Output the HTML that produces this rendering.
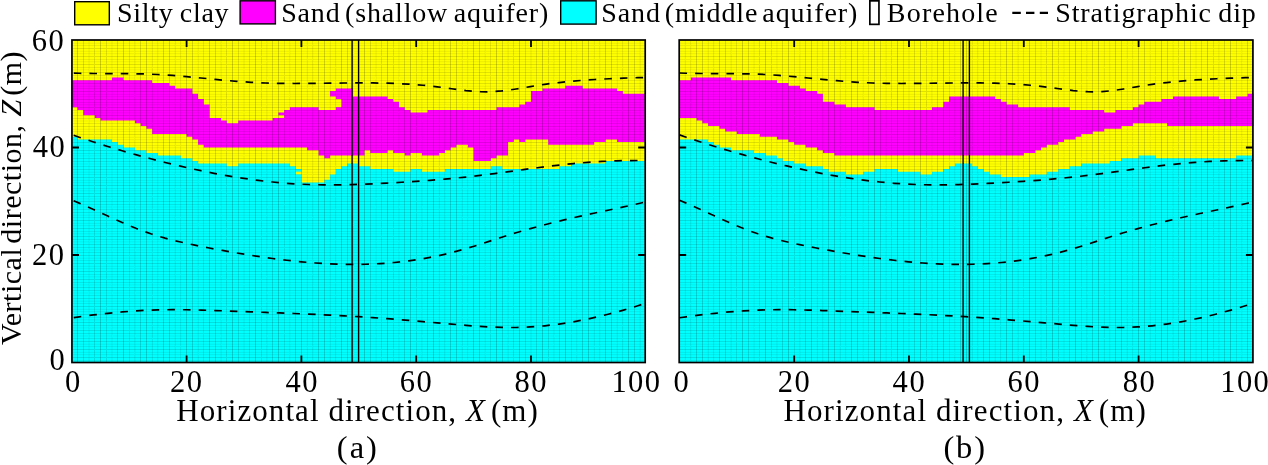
<!DOCTYPE html>
<html><head><meta charset="utf-8"><title>Stratigraphy</title>
<style>
html,body{margin:0;padding:0;background:#fff;}
body{width:1268px;height:465px;overflow:hidden;}
svg{display:block;will-change:transform;}
text{font-family:"Liberation Serif","Times New Roman",serif;fill:#000;}
</style></head><body>
<svg width="1268" height="465" viewBox="0 0 1268 465">
<rect x="71.8" y="40" width="574" height="322.5" fill="#00ffff"/>
<path fill="#ffff00" d="M71.8 40H645.8V160.94H640.06H634.32H628.58H622.84H617.1H611.36H605.62V163.62H599.88H594.14H588.4H582.66H576.92H571.18V166.31H565.44H559.7V169H553.96H548.22H542.48H536.74H531H525.26H519.52H513.78H508.04H502.3V166.31H496.56H490.82V169H485.08H479.34H473.6H467.86H462.12H456.38H450.64H444.9V171.69H439.16H433.42H427.68H421.94V169H416.2H410.46V171.69H404.72H398.98H393.24V169H387.5H381.76H376.02H370.28V166.31H364.54H358.8V163.62H353.06H347.32V166.31H341.58V169H335.84V174.38H330.1V179.75H324.36V182.44H318.62H312.88H307.14H301.4V169H295.66V166.31H289.92V163.62H284.18H278.44H272.7H266.96H261.22H255.48H249.74H244H238.26V166.31H232.52H226.78V163.62H221.04H215.3H209.56H203.82H198.08V160.94H192.34V158.25H186.6H180.86V155.56H175.12H169.38H163.64H157.9V152.88H152.16H146.42V150.19H140.68H134.94V147.5H129.2H123.46V144.81H117.72V142.12H111.98V139.44H106.24H100.5H94.76H89.02H83.28H77.54V136.75H71.8Z"/>
<path fill="#ff00ff" d="M71.8 80.31H77.54H83.28H89.02H94.76H100.5H106.24H111.98V77.62H117.72H123.46V80.31H129.2H134.94H140.68H146.42H152.16V83H157.9H163.64H169.38V85.69H175.12V88.38H180.86H186.6H192.34V93.75H198.08V99.12H203.82V104.5H209.56V117.94H215.3H221.04V120.62H226.78V123.31H232.52H238.26V120.62H244H249.74H255.48H261.22H266.96H272.7V117.94H278.44V112.56H284.18V109.88H289.92V107.19H295.66H301.4H307.14H312.88H318.62V109.88H324.36H330.1H335.84V88.38H341.58H347.32H353.06V96.44H358.8H364.54H370.28H376.02H381.76H387.5V99.12H393.24V101.81H398.98V107.19H404.72V109.88H410.46V112.56H416.2H421.94H427.68V109.88H433.42H439.16H444.9H450.64H456.38H462.12H467.86H473.6H479.34H485.08H490.82H496.56V107.19H502.3H508.04H513.78H519.52V104.5H525.26V101.81H531V91.06H536.74H542.48V88.38H548.22H553.96H559.7H565.44V85.69H571.18H576.92H582.66V88.38H588.4H594.14H599.88H605.62H611.36H617.1V91.06H622.84V93.75H628.58H634.32H640.06H645.8V142.12H640.06H634.32H628.58H622.84H617.1V139.44H611.36H605.62V142.12H599.88H594.14V144.81H588.4H582.66H576.92H571.18H565.44H559.7H553.96H548.22V139.44H542.48H536.74H531H525.26V142.12H519.52V139.44H513.78V142.12H508.04V155.56H502.3H496.56V158.25H490.82V160.94H485.08H479.34H473.6V147.5H467.86V144.81H462.12H456.38V147.5H450.64V150.19H444.9V152.88H439.16V155.56H433.42H427.68H421.94V152.88H416.2H410.46V155.56H404.72V152.88H398.98H393.24V150.19H387.5V152.88H381.76H376.02H370.28V150.19H364.54V155.56H358.8H353.06H347.32H341.58H335.84H330.1V158.25H324.36V155.56H318.62V150.19H312.88H307.14V147.5H301.4H295.66H289.92H284.18H278.44H272.7H266.96H261.22H255.48H249.74H244H238.26H232.52H226.78H221.04H215.3H209.56H203.82V144.81H198.08V139.44H192.34V136.75H186.6V134.06H180.86H175.12H169.38H163.64H157.9H152.16V128.69H146.42V126H140.68V123.31H134.94V120.62H129.2H123.46H117.72H111.98H106.24H100.5V117.94H94.76V115.25H89.02H83.28V109.88H77.54V107.19H71.8Z"/>
<rect x="277.84" y="115.25" width="6.34" height="2.69" fill="#ffff00"/>
<rect x="330.1" y="91.06" width="6.34" height="5.38" fill="#ff00ff"/>
<rect x="335.24" y="99.12" width="6.34" height="8.06" fill="#ffff00"/>
<rect x="295.66" y="171.69" width="6.34" height="2.69" fill="#ffff00"/>
<path d="M151 40h1v322h-1zM181 40h1v322h-1zM306 40h1v322h-1zM336 40h1v322h-1zM438 40h1v322h-1zM468 40h1v322h-1zM593 40h1v322h-1zM623 40h1v322h-1zM72 50h573v1h-573zM72 54h573v1h-573zM72 93h573v1h-573zM72 97h573v1h-573zM72 136h573v1h-573zM72 140h573v1h-573zM72 179h573v1h-573zM72 183h573v1h-573zM72 222h573v1h-573zM72 226h573v1h-573zM72 265h573v1h-573zM72 269h573v1h-573zM72 308h573v1h-573zM72 312h573v1h-573zM72 351h573v1h-573zM72 355h573v1h-573z" fill="#000" fill-opacity="0.01" shape-rendering="crispEdges"/>
<path d="M158 40h1v322h-1zM174 40h1v322h-1zM197 40h1v322h-1zM290 40h1v322h-1zM313 40h1v322h-1zM329 40h1v322h-1zM445 40h1v322h-1zM461 40h1v322h-1zM484 40h1v322h-1zM577 40h1v322h-1zM600 40h1v322h-1zM616 40h1v322h-1zM72 42h573v1h-573zM72 62h573v1h-573zM72 70h573v1h-573zM72 85h573v1h-573zM72 105h573v1h-573zM72 113h573v1h-573zM72 128h573v1h-573zM72 148h573v1h-573zM72 156h573v1h-573zM72 171h573v1h-573zM72 191h573v1h-573zM72 199h573v1h-573zM72 214h573v1h-573zM72 234h573v1h-573zM72 242h573v1h-573zM72 257h573v1h-573zM72 277h573v1h-573zM72 285h573v1h-573zM72 300h573v1h-573zM72 320h573v1h-573zM72 328h573v1h-573zM72 343h573v1h-573z" fill="#000" fill-opacity="0.02" shape-rendering="crispEdges"/>
<path d="M88 40h1v322h-1zM112 40h1v322h-1zM135 40h1v322h-1zM220 40h1v322h-1zM267 40h1v322h-1zM352 40h1v322h-1zM375 40h1v322h-1zM399 40h1v322h-1zM422 40h1v322h-1zM507 40h1v322h-1zM554 40h1v322h-1zM639 40h1v322h-1zM72 77h573v1h-573zM72 78h573v1h-573zM72 120h573v1h-573zM72 121h573v1h-573zM72 163h573v1h-573zM72 164h573v1h-573zM72 206h573v1h-573zM72 207h573v1h-573zM72 249h573v1h-573zM72 250h573v1h-573zM72 292h573v1h-573zM72 293h573v1h-573zM72 335h573v1h-573zM72 336h573v1h-573z" fill="#000" fill-opacity="0.03" shape-rendering="crispEdges"/>
<path d="M89 40h1v322h-1zM111 40h1v322h-1zM243 40h1v322h-1zM244 40h1v322h-1zM376 40h1v322h-1zM398 40h1v322h-1zM530 40h1v322h-1zM531 40h1v322h-1zM72 69h573v1h-573zM72 112h573v1h-573zM72 155h573v1h-573zM72 198h573v1h-573zM72 241h573v1h-573zM72 284h573v1h-573zM72 327h573v1h-573z" fill="#000" fill-opacity="0.04" shape-rendering="crispEdges"/>
<path d="M221 40h1v322h-1zM266 40h1v322h-1zM508 40h1v322h-1zM553 40h1v322h-1zM72 43h573v1h-573zM72 61h573v1h-573zM72 86h573v1h-573zM72 104h573v1h-573zM72 129h573v1h-573zM72 147h573v1h-573zM72 172h573v1h-573zM72 190h573v1h-573zM72 215h573v1h-573zM72 233h573v1h-573zM72 258h573v1h-573zM72 276h573v1h-573zM72 301h573v1h-573zM72 319h573v1h-573zM72 344h573v1h-573z" fill="#000" fill-opacity="0.05" shape-rendering="crispEdges"/>
<path d="M134 40h1v322h-1zM198 40h1v322h-1zM289 40h1v322h-1zM353 40h1v322h-1zM421 40h1v322h-1zM485 40h1v322h-1zM576 40h1v322h-1zM640 40h1v322h-1zM72 51h573v1h-573zM72 53h573v1h-573zM72 94h573v1h-573zM72 96h573v1h-573zM72 137h573v1h-573zM72 139h573v1h-573zM72 180h573v1h-573zM72 182h573v1h-573zM72 223h573v1h-573zM72 225h573v1h-573zM72 266h573v1h-573zM72 268h573v1h-573zM72 309h573v1h-573zM72 311h573v1h-573zM72 352h573v1h-573zM72 354h573v1h-573z" fill="#000" fill-opacity="0.06" shape-rendering="crispEdges"/>
<path d="M157 40h1v322h-1zM330 40h1v322h-1zM444 40h1v322h-1zM617 40h1v322h-1z" fill="#000" fill-opacity="0.07" shape-rendering="crispEdges"/>
<path d="M175 40h1v322h-1zM180 40h1v322h-1zM307 40h1v322h-1zM312 40h1v322h-1zM462 40h1v322h-1zM467 40h1v322h-1zM594 40h1v322h-1zM599 40h1v322h-1zM72 45h573v1h-573zM72 59h573v1h-573zM72 88h573v1h-573zM72 102h573v1h-573zM72 131h573v1h-573zM72 145h573v1h-573zM72 174h573v1h-573zM72 188h573v1h-573zM72 217h573v1h-573zM72 231h573v1h-573zM72 260h573v1h-573zM72 274h573v1h-573zM72 303h573v1h-573zM72 317h573v1h-573zM72 346h573v1h-573zM72 360h573v1h-573z" fill="#000" fill-opacity="0.08" shape-rendering="crispEdges"/>
<path d="M152 40h1v322h-1zM335 40h1v322h-1zM439 40h1v322h-1zM622 40h1v322h-1zM72 67h573v1h-573zM72 80h573v1h-573zM72 110h573v1h-573zM72 123h573v1h-573zM72 153h573v1h-573zM72 166h573v1h-573zM72 196h573v1h-573zM72 209h573v1h-573zM72 239h573v1h-573zM72 252h573v1h-573zM72 282h573v1h-573zM72 295h573v1h-573zM72 325h573v1h-573zM72 338h573v1h-573z" fill="#000" fill-opacity="0.09" shape-rendering="crispEdges"/>
<path d="M203 40h1v322h-1zM284 40h1v322h-1zM490 40h1v322h-1zM571 40h1v322h-1zM72 75h573v1h-573zM72 118h573v1h-573zM72 161h573v1h-573zM72 204h573v1h-573zM72 247h573v1h-573zM72 290h573v1h-573zM72 333h573v1h-573z" fill="#000" fill-opacity="0.1" shape-rendering="crispEdges"/>
<path d="M129 40h1v322h-1zM358 40h1v322h-1zM416 40h1v322h-1zM72 72h573v1h-573zM72 83h573v1h-573zM72 115h573v1h-573zM72 126h573v1h-573zM72 158h573v1h-573zM72 169h573v1h-573zM72 201h573v1h-573zM72 212h573v1h-573zM72 244h573v1h-573zM72 255h573v1h-573zM72 287h573v1h-573zM72 298h573v1h-573zM72 330h573v1h-573zM72 341h573v1h-573z" fill="#000" fill-opacity="0.11" shape-rendering="crispEdges"/>
<path d="M94 40h1v322h-1zM106 40h1v322h-1zM226 40h1v322h-1zM261 40h1v322h-1zM381 40h1v322h-1zM393 40h1v322h-1zM513 40h1v322h-1zM548 40h1v322h-1zM72 48h573v1h-573zM72 56h573v1h-573zM72 64h573v1h-573zM72 91h573v1h-573zM72 99h573v1h-573zM72 107h573v1h-573zM72 134h573v1h-573zM72 142h573v1h-573zM72 150h573v1h-573zM72 177h573v1h-573zM72 185h573v1h-573zM72 193h573v1h-573zM72 220h573v1h-573zM72 228h573v1h-573zM72 236h573v1h-573zM72 263h573v1h-573zM72 271h573v1h-573zM72 279h573v1h-573zM72 306h573v1h-573zM72 314h573v1h-573zM72 322h573v1h-573zM72 349h573v1h-573zM72 357h573v1h-573z" fill="#000" fill-opacity="0.12" shape-rendering="crispEdges"/>
<path d="M238 40h1v322h-1zM249 40h1v322h-1zM525 40h1v322h-1zM536 40h1v322h-1z" fill="#000" fill-opacity="0.13" shape-rendering="crispEdges"/>
<path d="M83 40h1v322h-1zM117 40h1v322h-1zM370 40h1v322h-1zM404 40h1v322h-1z" fill="#000" fill-opacity="0.14" shape-rendering="crispEdges"/>
<path d="M140 40h1v322h-1zM215 40h1v322h-1zM272 40h1v322h-1zM347 40h1v322h-1zM427 40h1v322h-1zM502 40h1v322h-1zM559 40h1v322h-1zM634 40h1v322h-1z" fill="#000" fill-opacity="0.15" shape-rendering="crispEdges"/>
<path d="M192 40h1v322h-1zM295 40h1v322h-1zM479 40h1v322h-1zM582 40h1v322h-1z" fill="#000" fill-opacity="0.16" shape-rendering="crispEdges"/>
<path d="M163 40h1v322h-1zM169 40h1v322h-1zM318 40h1v322h-1zM324 40h1v322h-1zM450 40h1v322h-1zM456 40h1v322h-1zM605 40h1v322h-1zM611 40h1v322h-1z" fill="#000" fill-opacity="0.17" shape-rendering="crispEdges"/>
<path d="M146 40h1v322h-1zM186 40h1v322h-1zM301 40h1v322h-1zM341 40h1v322h-1zM433 40h1v322h-1zM473 40h1v322h-1zM588 40h1v322h-1zM628 40h1v322h-1z" fill="#000" fill-opacity="0.18" shape-rendering="crispEdges"/>
<path d="M77 40h1v322h-1zM100 40h1v322h-1zM123 40h1v322h-1zM209 40h1v322h-1zM232 40h1v322h-1zM255 40h1v322h-1zM278 40h1v322h-1zM364 40h1v322h-1zM387 40h1v322h-1zM410 40h1v322h-1zM496 40h1v322h-1zM519 40h1v322h-1zM542 40h1v322h-1zM565 40h1v322h-1z" fill="#000" fill-opacity="0.19" shape-rendering="crispEdges"/>
<polyline points="72,73 79.16,73.23 86.33,73.39 93.49,73.49 100.65,73.55 107.81,73.58 114.97,73.61 122.14,73.65 129.3,73.71 136.46,73.81 143.62,73.97 150.79,74.2 157.95,74.52 165.11,74.94 172.28,75.44 179.44,76.01 186.6,76.64 193.76,77.3 200.93,77.99 208.09,78.69 215.25,79.39 222.41,80.07 229.58,80.72 236.74,81.32 243.9,81.86 251.06,82.33 258.23,82.71 265.39,83 272.55,83.21 279.71,83.36 286.88,83.44 294.04,83.48 301.2,83.47 308.36,83.43 315.52,83.36 322.69,83.27 329.85,83.18 337.01,83.09 344.18,83.01 351.34,82.95 358.5,82.91 365.66,82.91 372.83,82.96 379.99,83.05 387.15,83.21 394.31,83.44 401.48,83.75 408.64,84.15 415.8,84.64 422.96,85.24 430.12,85.95 437.29,86.79 444.45,87.74 451.61,88.75 458.78,89.73 465.94,90.6 473.1,91.29 480.26,91.71 487.43,91.8 494.59,91.53 501.75,90.95 508.91,90.1 516.08,89.03 523.24,87.81 530.4,86.55 537.56,85.39 544.73,84.34 551.89,83.39 559.05,82.54 566.21,81.78 573.38,81.1 580.54,80.5 587.7,79.97 594.86,79.51 602.03,79.1 609.19,78.75 616.35,78.43 623.51,78.16 630.68,77.91 637.84,77.69 645,77.49" fill="none" stroke="#000" stroke-width="1.7" stroke-dasharray="7.6 8.05" stroke-dashoffset="-1.8"/>
<polyline points="72,134.7 79.16,137.18 86.33,139.59 93.49,141.95 100.65,144.25 107.81,146.49 114.97,148.68 122.14,150.8 129.3,152.88 136.46,154.9 143.62,156.87 150.79,158.78 157.95,160.65 165.11,162.46 172.28,164.22 179.44,165.93 186.6,167.58 193.76,169.17 200.93,170.69 208.09,172.15 215.25,173.55 222.41,174.87 229.58,176.12 236.74,177.3 243.9,178.41 251.06,179.43 258.23,180.37 265.39,181.23 272.55,182 279.71,182.69 286.88,183.29 294.04,183.79 301.2,184.19 308.36,184.5 315.52,184.72 322.69,184.84 329.85,184.88 337.01,184.85 344.18,184.75 351.34,184.58 358.5,184.36 365.66,184.1 372.83,183.79 379.99,183.45 387.15,183.08 394.31,182.69 401.48,182.27 408.64,181.83 415.8,181.35 422.96,180.85 430.12,180.31 437.29,179.74 444.45,179.12 451.61,178.47 458.78,177.77 465.94,177.03 473.1,176.24 480.26,175.4 487.43,174.52 494.59,173.59 501.75,172.63 508.91,171.65 516.08,170.66 523.24,169.67 530.4,168.69 537.56,167.73 544.73,166.79 551.89,165.9 559.05,165.06 566.21,164.28 573.38,163.56 580.54,162.92 587.7,162.36 594.86,161.87 602.03,161.45 609.19,161.11 616.35,160.84 623.51,160.65 630.68,160.53 637.84,160.49 645,160.52" fill="none" stroke="#000" stroke-width="1.7" stroke-dasharray="7.6 8.05" stroke-dashoffset="-1.8"/>
<polyline points="72,200.1 79.16,203.1 86.33,206.23 93.49,209.46 100.65,212.74 107.81,216.03 114.97,219.3 122.14,222.49 129.3,225.58 136.46,228.53 143.62,231.28 150.79,233.81 157.95,236.09 165.11,238.16 172.28,240.05 179.44,241.78 186.6,243.4 193.76,244.92 200.93,246.38 208.09,247.78 215.25,249.14 222.41,250.46 229.58,251.74 236.74,252.99 243.9,254.19 251.06,255.34 258.23,256.45 265.39,257.5 272.55,258.49 279.71,259.42 286.88,260.28 294.04,261.08 301.2,261.79 308.36,262.43 315.52,262.99 322.69,263.46 329.85,263.84 337.01,264.12 344.18,264.31 351.34,264.39 358.5,264.36 365.66,264.23 372.83,263.98 379.99,263.61 387.15,263.11 394.31,262.49 401.48,261.74 408.64,260.86 415.8,259.84 422.96,258.69 430.12,257.38 437.29,255.93 444.45,254.33 451.61,252.58 458.78,250.69 465.94,248.66 473.1,246.51 480.26,244.25 487.43,241.93 494.59,239.57 501.75,237.24 508.91,234.97 516.08,232.78 523.24,230.67 530.4,228.63 537.56,226.66 544.73,224.76 551.89,222.92 559.05,221.15 566.21,219.42 573.38,217.76 580.54,216.14 587.7,214.57 594.86,213.03 602.03,211.51 609.19,209.99 616.35,208.47 623.51,206.93 630.68,205.35 637.84,203.72 645,202.02" fill="none" stroke="#000" stroke-width="1.7" stroke-dasharray="7.6 8.05" stroke-dashoffset="-1.8"/>
<polyline points="72,317.8 79.16,316.8 86.33,315.84 93.49,314.94 100.65,314.09 107.81,313.31 114.97,312.59 122.14,311.94 129.3,311.37 136.46,310.87 143.62,310.46 150.79,310.13 157.95,309.9 165.11,309.75 172.28,309.69 179.44,309.7 186.6,309.77 193.76,309.9 200.93,310.08 208.09,310.29 215.25,310.53 222.41,310.79 229.58,311.06 236.74,311.34 243.9,311.6 251.06,311.87 258.23,312.14 265.39,312.4 272.55,312.67 279.71,312.95 286.88,313.23 294.04,313.51 301.2,313.81 308.36,314.12 315.52,314.44 322.69,314.77 329.85,315.12 337.01,315.49 344.18,315.87 351.34,316.28 358.5,316.71 365.66,317.16 372.83,317.64 379.99,318.15 387.15,318.68 394.31,319.23 401.48,319.8 408.64,320.39 415.8,320.99 422.96,321.61 430.12,322.23 437.29,322.85 444.45,323.48 451.61,324.11 458.78,324.73 465.94,325.33 473.1,325.89 480.26,326.4 487.43,326.83 494.59,327.18 501.75,327.41 508.91,327.52 516.08,327.49 523.24,327.29 530.4,326.94 537.56,326.44 544.73,325.79 551.89,324.99 559.05,324.06 566.21,322.99 573.38,321.79 580.54,320.46 587.7,319.01 594.86,317.44 602.03,315.76 609.19,313.97 616.35,312.07 623.51,310.07 630.68,307.97 637.84,305.78 645,303.5" fill="none" stroke="#000" stroke-width="1.7" stroke-dasharray="7.6 8.05" stroke-dashoffset="-1.8"/>
<line x1="352.1" y1="40" x2="352.1" y2="362.5" stroke="#000" stroke-width="1.4"/>
<line x1="358.6" y1="40" x2="358.6" y2="362.5" stroke="#000" stroke-width="1.4"/>
<path d="M186.6 40v7M186.6 362.5v-7M301.4 40v7M301.4 362.5v-7M416.2 40v7M416.2 362.5v-7M531 40v7M531 362.5v-7M71.95 255h7M645.2 255h-7M71.95 147.5h7M645.2 147.5h-7" stroke="#000" stroke-width="1.8" fill="none"/>
<rect x="71.95" y="40" width="573.25" height="322.5" fill="none" stroke="#000" stroke-width="1.7"/>
<rect x="679.4" y="40" width="574" height="322.5" fill="#00ffff"/>
<path fill="#ffff00" d="M679.4 40H1253.4V155.56H1247.66H1241.92H1236.18V158.25H1230.44H1224.7H1218.96H1213.22H1207.48H1201.74H1196H1190.26H1184.52H1178.78H1173.04H1167.3H1161.56H1155.82V155.56H1150.08H1144.34H1138.6V158.25H1132.86H1127.12H1121.38V160.94H1115.64H1109.9V163.62H1104.16H1098.42H1092.68H1086.94H1081.2V166.31H1075.46H1069.72V169H1063.98H1058.24V171.69H1052.5H1046.76V174.38H1041.02H1035.28H1029.54V177.06H1023.8H1018.06H1012.32H1006.58H1000.84V174.38H995.1H989.36V171.69H983.62V169H977.88V166.31H972.14V163.62H966.4H960.66H954.92V166.31H949.18V169H943.44V171.69H937.7H931.96V174.38H926.22H920.48V171.69H914.74H909H903.26H897.52V169H891.78H886.04H880.3H874.56V171.69H868.82H863.08V174.38H857.34H851.6H845.86V171.69H840.12H834.38H828.64V169H822.9V166.31H817.16H811.42H805.68V163.62H799.94H794.2V160.94H788.46H782.72V158.25H776.98V155.56H771.24H765.5V152.88H759.76H754.02V150.19H748.28H742.54H736.8H731.06V147.5H725.32H719.58V144.81H713.84V142.12H708.1V139.44H702.36H696.62H690.88H685.14H679.4Z"/>
<path fill="#ff00ff" d="M679.4 80.31H685.14H690.88V77.62H696.62H702.36H708.1H713.84H719.58H725.32H731.06V80.31H736.8H742.54H748.28H754.02H759.76H765.5H771.24H776.98V83H782.72H788.46V85.69H794.2H799.94V88.38H805.68V91.06H811.42H817.16V93.75H822.9V101.81H828.64H834.38V104.5H840.12H845.86V107.19H851.6H857.34H863.08H868.82H874.56V109.88H880.3H886.04H891.78H897.52H903.26H909H914.74H920.48H926.22H931.96V107.19H937.7H943.44V101.81H949.18V96.44H954.92H960.66H966.4H972.14H977.88H983.62H989.36H995.1V99.12H1000.84V101.81H1006.58V104.5H1012.32H1018.06V107.19H1023.8H1029.54H1035.28H1041.02H1046.76H1052.5H1058.24H1063.98H1069.72V109.88H1075.46H1081.2H1086.94H1092.68H1098.42H1104.16V112.56H1109.9H1115.64V109.88H1121.38H1127.12H1132.86V107.19H1138.6V104.5H1144.34V101.81H1150.08H1155.82H1161.56V99.12H1167.3H1173.04V96.44H1178.78H1184.52H1190.26H1196H1201.74H1207.48H1213.22H1218.96V99.12H1224.7H1230.44H1236.18V96.44H1241.92H1247.66V93.75H1253.4V126H1247.66H1241.92H1236.18H1230.44H1224.7H1218.96H1213.22H1207.48H1201.74H1196H1190.26H1184.52H1178.78H1173.04H1167.3V123.31H1161.56H1155.82H1150.08H1144.34H1138.6H1132.86V126H1127.12H1121.38V128.69H1115.64H1109.9H1104.16V131.38H1098.42H1092.68V134.06H1086.94H1081.2V136.75H1075.46V139.44H1069.72H1063.98V142.12H1058.24V144.81H1052.5H1046.76V147.5H1041.02V150.19H1035.28V152.88H1029.54H1023.8V155.56H1018.06H1012.32H1006.58H1000.84H995.1H989.36H983.62H977.88H972.14H966.4H960.66H954.92H949.18H943.44H937.7H931.96H926.22H920.48H914.74H909H903.26H897.52H891.78H886.04H880.3H874.56H868.82H863.08H857.34H851.6H845.86H840.12H834.38V152.88H828.64H822.9V150.19H817.16V147.5H811.42H805.68V144.81H799.94H794.2V142.12H788.46V139.44H782.72H776.98V136.75H771.24H765.5H759.76V134.06H754.02H748.28H742.54H736.8V131.38H731.06H725.32V128.69H719.58V126H713.84H708.1V123.31H702.36V120.62H696.62V117.94H690.88H685.14H679.4Z"/>
<path d="M684 40h1v322h-1zM714 40h1v322h-1zM816 40h1v322h-1zM846 40h1v322h-1zM971 40h1v322h-1zM1001 40h1v322h-1zM1103 40h1v322h-1zM1133 40h1v322h-1zM679 50h574v1h-574zM679 54h574v1h-574zM679 93h574v1h-574zM679 97h574v1h-574zM679 136h574v1h-574zM679 140h574v1h-574zM679 179h574v1h-574zM679 183h574v1h-574zM679 222h574v1h-574zM679 226h574v1h-574zM679 265h574v1h-574zM679 269h574v1h-574zM679 308h574v1h-574zM679 312h574v1h-574zM679 351h574v1h-574zM679 355h574v1h-574z" fill="#000" fill-opacity="0.01" shape-rendering="crispEdges"/>
<path d="M691 40h1v322h-1zM707 40h1v322h-1zM823 40h1v322h-1zM839 40h1v322h-1zM862 40h1v322h-1zM955 40h1v322h-1zM978 40h1v322h-1zM994 40h1v322h-1zM1110 40h1v322h-1zM1126 40h1v322h-1zM1149 40h1v322h-1zM1242 40h1v322h-1zM679 42h574v1h-574zM679 62h574v1h-574zM679 70h574v1h-574zM679 85h574v1h-574zM679 105h574v1h-574zM679 113h574v1h-574zM679 128h574v1h-574zM679 148h574v1h-574zM679 156h574v1h-574zM679 171h574v1h-574zM679 191h574v1h-574zM679 199h574v1h-574zM679 214h574v1h-574zM679 234h574v1h-574zM679 242h574v1h-574zM679 257h574v1h-574zM679 277h574v1h-574zM679 285h574v1h-574zM679 300h574v1h-574zM679 320h574v1h-574zM679 328h574v1h-574zM679 343h574v1h-574z" fill="#000" fill-opacity="0.02" shape-rendering="crispEdges"/>
<path d="M730 40h1v322h-1zM753 40h1v322h-1zM777 40h1v322h-1zM800 40h1v322h-1zM885 40h1v322h-1zM932 40h1v322h-1zM1017 40h1v322h-1zM1040 40h1v322h-1zM1064 40h1v322h-1zM1087 40h1v322h-1zM1172 40h1v322h-1zM1219 40h1v322h-1zM679 77h574v1h-574zM679 78h574v1h-574zM679 120h574v1h-574zM679 121h574v1h-574zM679 163h574v1h-574zM679 164h574v1h-574zM679 206h574v1h-574zM679 207h574v1h-574zM679 249h574v1h-574zM679 250h574v1h-574zM679 292h574v1h-574zM679 293h574v1h-574zM679 335h574v1h-574zM679 336h574v1h-574z" fill="#000" fill-opacity="0.03" shape-rendering="crispEdges"/>
<path d="M754 40h1v322h-1zM776 40h1v322h-1zM908 40h1v322h-1zM909 40h1v322h-1zM1041 40h1v322h-1zM1063 40h1v322h-1zM1195 40h1v322h-1zM1196 40h1v322h-1zM679 69h574v1h-574zM679 112h574v1h-574zM679 155h574v1h-574zM679 198h574v1h-574zM679 241h574v1h-574zM679 284h574v1h-574zM679 327h574v1h-574z" fill="#000" fill-opacity="0.04" shape-rendering="crispEdges"/>
<path d="M886 40h1v322h-1zM931 40h1v322h-1zM1173 40h1v322h-1zM1218 40h1v322h-1zM679 43h574v1h-574zM679 61h574v1h-574zM679 86h574v1h-574zM679 104h574v1h-574zM679 129h574v1h-574zM679 147h574v1h-574zM679 172h574v1h-574zM679 190h574v1h-574zM679 215h574v1h-574zM679 233h574v1h-574zM679 258h574v1h-574zM679 276h574v1h-574zM679 301h574v1h-574zM679 319h574v1h-574zM679 344h574v1h-574z" fill="#000" fill-opacity="0.05" shape-rendering="crispEdges"/>
<path d="M731 40h1v322h-1zM799 40h1v322h-1zM863 40h1v322h-1zM954 40h1v322h-1zM1018 40h1v322h-1zM1086 40h1v322h-1zM1150 40h1v322h-1zM1241 40h1v322h-1zM679 51h574v1h-574zM679 53h574v1h-574zM679 94h574v1h-574zM679 96h574v1h-574zM679 137h574v1h-574zM679 139h574v1h-574zM679 180h574v1h-574zM679 182h574v1h-574zM679 223h574v1h-574zM679 225h574v1h-574zM679 266h574v1h-574zM679 268h574v1h-574zM679 309h574v1h-574zM679 311h574v1h-574zM679 352h574v1h-574zM679 354h574v1h-574z" fill="#000" fill-opacity="0.06" shape-rendering="crispEdges"/>
<path d="M708 40h1v322h-1zM822 40h1v322h-1zM995 40h1v322h-1zM1109 40h1v322h-1z" fill="#000" fill-opacity="0.07" shape-rendering="crispEdges"/>
<path d="M685 40h1v322h-1zM690 40h1v322h-1zM840 40h1v322h-1zM845 40h1v322h-1zM972 40h1v322h-1zM977 40h1v322h-1zM1127 40h1v322h-1zM1132 40h1v322h-1zM679 45h574v1h-574zM679 59h574v1h-574zM679 88h574v1h-574zM679 102h574v1h-574zM679 131h574v1h-574zM679 145h574v1h-574zM679 174h574v1h-574zM679 188h574v1h-574zM679 217h574v1h-574zM679 231h574v1h-574zM679 260h574v1h-574zM679 274h574v1h-574zM679 303h574v1h-574zM679 317h574v1h-574zM679 346h574v1h-574zM679 360h574v1h-574z" fill="#000" fill-opacity="0.08" shape-rendering="crispEdges"/>
<path d="M713 40h1v322h-1zM817 40h1v322h-1zM1000 40h1v322h-1zM1104 40h1v322h-1zM679 67h574v1h-574zM679 80h574v1h-574zM679 110h574v1h-574zM679 123h574v1h-574zM679 153h574v1h-574zM679 166h574v1h-574zM679 196h574v1h-574zM679 209h574v1h-574zM679 239h574v1h-574zM679 252h574v1h-574zM679 282h574v1h-574zM679 295h574v1h-574zM679 325h574v1h-574zM679 338h574v1h-574z" fill="#000" fill-opacity="0.09" shape-rendering="crispEdges"/>
<path d="M868 40h1v322h-1zM949 40h1v322h-1zM1155 40h1v322h-1zM1236 40h1v322h-1zM679 75h574v1h-574zM679 118h574v1h-574zM679 161h574v1h-574zM679 204h574v1h-574zM679 247h574v1h-574zM679 290h574v1h-574zM679 333h574v1h-574z" fill="#000" fill-opacity="0.1" shape-rendering="crispEdges"/>
<path d="M736 40h1v322h-1zM794 40h1v322h-1zM1023 40h1v322h-1zM1081 40h1v322h-1zM679 72h574v1h-574zM679 83h574v1h-574zM679 115h574v1h-574zM679 126h574v1h-574zM679 158h574v1h-574zM679 169h574v1h-574zM679 201h574v1h-574zM679 212h574v1h-574zM679 244h574v1h-574zM679 255h574v1h-574zM679 287h574v1h-574zM679 298h574v1h-574zM679 330h574v1h-574zM679 341h574v1h-574z" fill="#000" fill-opacity="0.11" shape-rendering="crispEdges"/>
<path d="M759 40h1v322h-1zM771 40h1v322h-1zM891 40h1v322h-1zM926 40h1v322h-1zM1046 40h1v322h-1zM1058 40h1v322h-1zM1178 40h1v322h-1zM1213 40h1v322h-1zM679 48h574v1h-574zM679 56h574v1h-574zM679 64h574v1h-574zM679 91h574v1h-574zM679 99h574v1h-574zM679 107h574v1h-574zM679 134h574v1h-574zM679 142h574v1h-574zM679 150h574v1h-574zM679 177h574v1h-574zM679 185h574v1h-574zM679 193h574v1h-574zM679 220h574v1h-574zM679 228h574v1h-574zM679 236h574v1h-574zM679 263h574v1h-574zM679 271h574v1h-574zM679 279h574v1h-574zM679 306h574v1h-574zM679 314h574v1h-574zM679 322h574v1h-574zM679 349h574v1h-574zM679 357h574v1h-574z" fill="#000" fill-opacity="0.12" shape-rendering="crispEdges"/>
<path d="M903 40h1v322h-1zM914 40h1v322h-1zM1190 40h1v322h-1zM1201 40h1v322h-1z" fill="#000" fill-opacity="0.13" shape-rendering="crispEdges"/>
<path d="M748 40h1v322h-1zM782 40h1v322h-1zM1035 40h1v322h-1zM1069 40h1v322h-1z" fill="#000" fill-opacity="0.14" shape-rendering="crispEdges"/>
<path d="M725 40h1v322h-1zM805 40h1v322h-1zM880 40h1v322h-1zM937 40h1v322h-1zM1012 40h1v322h-1zM1092 40h1v322h-1zM1167 40h1v322h-1zM1224 40h1v322h-1z" fill="#000" fill-opacity="0.15" shape-rendering="crispEdges"/>
<path d="M857 40h1v322h-1zM960 40h1v322h-1zM1144 40h1v322h-1zM1247 40h1v322h-1z" fill="#000" fill-opacity="0.16" shape-rendering="crispEdges"/>
<path d="M696 40h1v322h-1zM702 40h1v322h-1zM828 40h1v322h-1zM834 40h1v322h-1zM983 40h1v322h-1zM989 40h1v322h-1zM1115 40h1v322h-1zM1121 40h1v322h-1z" fill="#000" fill-opacity="0.17" shape-rendering="crispEdges"/>
<path d="M719 40h1v322h-1zM811 40h1v322h-1zM851 40h1v322h-1zM966 40h1v322h-1zM1006 40h1v322h-1zM1098 40h1v322h-1zM1138 40h1v322h-1z" fill="#000" fill-opacity="0.18" shape-rendering="crispEdges"/>
<path d="M742 40h1v322h-1zM765 40h1v322h-1zM788 40h1v322h-1zM874 40h1v322h-1zM897 40h1v322h-1zM920 40h1v322h-1zM943 40h1v322h-1zM1029 40h1v322h-1zM1052 40h1v322h-1zM1075 40h1v322h-1zM1161 40h1v322h-1zM1184 40h1v322h-1zM1207 40h1v322h-1zM1230 40h1v322h-1z" fill="#000" fill-opacity="0.19" shape-rendering="crispEdges"/>
<polyline points="679,73 686.17,73.23 693.34,73.39 700.51,73.49 707.67,73.55 714.84,73.58 722.01,73.61 729.18,73.65 736.35,73.71 743.52,73.81 750.69,73.97 757.86,74.2 765.02,74.52 772.19,74.94 779.36,75.44 786.53,76.01 793.7,76.64 800.87,77.3 808.04,77.99 815.21,78.69 822.38,79.39 829.54,80.07 836.71,80.72 843.88,81.32 851.05,81.86 858.22,82.33 865.39,82.71 872.56,83 879.73,83.21 886.89,83.36 894.06,83.44 901.23,83.48 908.4,83.47 915.57,83.43 922.74,83.36 929.91,83.27 937.08,83.18 944.24,83.09 951.41,83.01 958.58,82.95 965.75,82.91 972.92,82.91 980.09,82.96 987.26,83.05 994.42,83.21 1001.59,83.44 1008.76,83.75 1015.93,84.15 1023.1,84.64 1030.27,85.24 1037.44,85.95 1044.61,86.79 1051.78,87.74 1058.94,88.75 1066.11,89.73 1073.28,90.6 1080.45,91.29 1087.62,91.71 1094.79,91.8 1101.96,91.53 1109.12,90.95 1116.29,90.1 1123.46,89.03 1130.63,87.81 1137.8,86.55 1144.97,85.39 1152.14,84.34 1159.31,83.39 1166.47,82.54 1173.64,81.78 1180.81,81.1 1187.98,80.5 1195.15,79.97 1202.32,79.51 1209.49,79.1 1216.66,78.75 1223.83,78.43 1230.99,78.16 1238.16,77.91 1245.33,77.69 1252.5,77.49" fill="none" stroke="#000" stroke-width="1.7" stroke-dasharray="7.6 8.05" stroke-dashoffset="-0.5"/>
<polyline points="679,134.7 686.17,137.18 693.34,139.59 700.51,141.95 707.67,144.25 714.84,146.49 722.01,148.68 729.18,150.8 736.35,152.88 743.52,154.9 750.69,156.87 757.86,158.78 765.02,160.65 772.19,162.46 779.36,164.22 786.53,165.93 793.7,167.58 800.87,169.17 808.04,170.69 815.21,172.15 822.38,173.55 829.54,174.87 836.71,176.12 843.88,177.3 851.05,178.41 858.22,179.43 865.39,180.37 872.56,181.23 879.73,182 886.89,182.69 894.06,183.29 901.23,183.79 908.4,184.19 915.57,184.5 922.74,184.72 929.91,184.84 937.08,184.88 944.24,184.85 951.41,184.75 958.58,184.58 965.75,184.36 972.92,184.1 980.09,183.79 987.26,183.45 994.42,183.08 1001.59,182.69 1008.76,182.27 1015.93,181.83 1023.1,181.35 1030.27,180.85 1037.44,180.31 1044.61,179.74 1051.78,179.12 1058.94,178.47 1066.11,177.77 1073.28,177.03 1080.45,176.24 1087.62,175.4 1094.79,174.52 1101.96,173.59 1109.12,172.63 1116.29,171.65 1123.46,170.66 1130.63,169.67 1137.8,168.69 1144.97,167.73 1152.14,166.79 1159.31,165.9 1166.47,165.06 1173.64,164.28 1180.81,163.56 1187.98,162.92 1195.15,162.36 1202.32,161.87 1209.49,161.45 1216.66,161.11 1223.83,160.84 1230.99,160.65 1238.16,160.53 1245.33,160.49 1252.5,160.52" fill="none" stroke="#000" stroke-width="1.7" stroke-dasharray="7.6 8.05" stroke-dashoffset="-0.5"/>
<polyline points="679,200.1 686.17,203.1 693.34,206.23 700.51,209.46 707.67,212.74 714.84,216.03 722.01,219.3 729.18,222.49 736.35,225.58 743.52,228.53 750.69,231.28 757.86,233.81 765.02,236.09 772.19,238.16 779.36,240.05 786.53,241.78 793.7,243.4 800.87,244.92 808.04,246.38 815.21,247.78 822.38,249.14 829.54,250.46 836.71,251.74 843.88,252.99 851.05,254.19 858.22,255.34 865.39,256.45 872.56,257.5 879.73,258.49 886.89,259.42 894.06,260.28 901.23,261.08 908.4,261.79 915.57,262.43 922.74,262.99 929.91,263.46 937.08,263.84 944.24,264.12 951.41,264.31 958.58,264.39 965.75,264.36 972.92,264.23 980.09,263.98 987.26,263.61 994.42,263.11 1001.59,262.49 1008.76,261.74 1015.93,260.86 1023.1,259.84 1030.27,258.69 1037.44,257.38 1044.61,255.93 1051.78,254.33 1058.94,252.58 1066.11,250.69 1073.28,248.66 1080.45,246.51 1087.62,244.25 1094.79,241.93 1101.96,239.57 1109.12,237.24 1116.29,234.97 1123.46,232.78 1130.63,230.67 1137.8,228.63 1144.97,226.66 1152.14,224.76 1159.31,222.92 1166.47,221.15 1173.64,219.42 1180.81,217.76 1187.98,216.14 1195.15,214.57 1202.32,213.03 1209.49,211.51 1216.66,209.99 1223.83,208.47 1230.99,206.93 1238.16,205.35 1245.33,203.72 1252.5,202.02" fill="none" stroke="#000" stroke-width="1.7" stroke-dasharray="7.6 8.05" stroke-dashoffset="-0.5"/>
<polyline points="679,317.8 686.17,316.8 693.34,315.84 700.51,314.94 707.67,314.09 714.84,313.31 722.01,312.59 729.18,311.94 736.35,311.37 743.52,310.87 750.69,310.46 757.86,310.13 765.02,309.9 772.19,309.75 779.36,309.69 786.53,309.7 793.7,309.77 800.87,309.9 808.04,310.08 815.21,310.29 822.38,310.53 829.54,310.79 836.71,311.06 843.88,311.34 851.05,311.6 858.22,311.87 865.39,312.14 872.56,312.4 879.73,312.67 886.89,312.95 894.06,313.23 901.23,313.51 908.4,313.81 915.57,314.12 922.74,314.44 929.91,314.77 937.08,315.12 944.24,315.49 951.41,315.87 958.58,316.28 965.75,316.71 972.92,317.16 980.09,317.64 987.26,318.15 994.42,318.68 1001.59,319.23 1008.76,319.8 1015.93,320.39 1023.1,320.99 1030.27,321.61 1037.44,322.23 1044.61,322.85 1051.78,323.48 1058.94,324.11 1066.11,324.73 1073.28,325.33 1080.45,325.89 1087.62,326.4 1094.79,326.83 1101.96,327.18 1109.12,327.41 1116.29,327.52 1123.46,327.49 1130.63,327.29 1137.8,326.94 1144.97,326.44 1152.14,325.79 1159.31,324.99 1166.47,324.06 1173.64,322.99 1180.81,321.79 1187.98,320.46 1195.15,319.01 1202.32,317.44 1209.49,315.76 1216.66,313.97 1223.83,312.07 1230.99,310.07 1238.16,307.97 1245.33,305.78 1252.5,303.5" fill="none" stroke="#000" stroke-width="1.7" stroke-dasharray="7.6 8.05" stroke-dashoffset="-0.5"/>
<line x1="963.1" y1="40" x2="963.1" y2="362.5" stroke="#000" stroke-width="1.4"/>
<line x1="969.4" y1="40" x2="969.4" y2="362.5" stroke="#000" stroke-width="1.4"/>
<path d="M794.2 40v7M794.2 362.5v-7M909 40v7M909 362.5v-7M1023.8 40v7M1023.8 362.5v-7M1138.6 40v7M1138.6 362.5v-7M679.2 255h7M1252.9 255h-7M679.2 147.5h7M1252.9 147.5h-7" stroke="#000" stroke-width="1.8" fill="none"/>
<rect x="679.2" y="40" width="573.7" height="322.5" fill="none" stroke="#000" stroke-width="1.7"/>
<text x="117.01" y="22.2" font-size="28" letter-spacing="0.73">Silty <tspan dx="-1.5">clay</tspan></text>
<text x="281.13" y="22.2" font-size="28" letter-spacing="0.84">Sand <tspan dx="-3.3">(shallow </tspan><tspan dx="-2.2">aquifer)</tspan></text>
<text x="601.13" y="22.2" font-size="28" letter-spacing="0.93">Sand <tspan dx="-4">(middle </tspan><tspan dx="-4">aquifer)</tspan></text>
<text x="886.85" y="22.2" font-size="28" letter-spacing="1.18">Borehole</text>
<text x="1055.13" y="22.2" font-size="28" letter-spacing="0.94">Stratigraphic <tspan dx="-1.7">dip</tspan></text>
<text x="176.24" y="420.6" font-size="31" letter-spacing="1.08">Horizontal direction, <tspan font-style="italic">X</tspan><tspan> </tspan><tspan dx="-4">(m)</tspan></text>
<text x="783.49" y="420.6" font-size="31" letter-spacing="1.11">Horizontal direction, <tspan font-style="italic">X</tspan><tspan> </tspan><tspan dx="-4">(m)</tspan></text>
<text x="336.83" y="457.9" font-size="32.5" letter-spacing="2.02">(a)</text>
<text x="943.47" y="457.9" font-size="32.5" letter-spacing="1.81">(b)</text>
<text transform="translate(21.2 345.08) rotate(-90)" font-size="30" letter-spacing="0.51">Vertical <tspan dx="-4">direction, </tspan><tspan font-style="italic">Z</tspan><tspan> </tspan><tspan dx="-4.5">(m)</tspan></text>
<text x="31.74" y="51" font-size="30.5" letter-spacing="1.6">60</text>
<text x="32.65" y="157.3" font-size="30.5" letter-spacing="1.6">40</text>
<text x="32" y="264.9" font-size="30.5" letter-spacing="1.6">20</text>
<text x="49.55" y="369.8" font-size="30.5">0</text>
<text x="64.99" y="391.7" font-size="30.5">0</text>
<text x="169.99" y="391.7" font-size="30.5" letter-spacing="1.6">20</text>
<text x="285.38" y="391.7" font-size="30.5" letter-spacing="1.6">40</text>
<text x="399.75" y="391.7" font-size="30.5" letter-spacing="1.6">60</text>
<text x="514.42" y="391.7" font-size="30.5" letter-spacing="1.6">80</text>
<text x="611.57" y="391.7" font-size="30.5" letter-spacing="1.3">100</text>
<text x="673.45" y="391.7" font-size="30.5">0</text>
<text x="777.76" y="391.7" font-size="30.5" letter-spacing="1.6">20</text>
<text x="892.61" y="391.7" font-size="30.5" letter-spacing="1.6">40</text>
<text x="1007.53" y="391.7" font-size="30.5" letter-spacing="1.6">60</text>
<text x="1122.78" y="391.7" font-size="30.5" letter-spacing="1.6">80</text>
<text x="1220.36" y="391.7" font-size="30.5" letter-spacing="1.3">100</text>
<rect x="74.7" y="1.7" width="34.6" height="23.1" fill="#ffff00" stroke="#000" stroke-width="1.4"/>
<rect x="240.1" y="0.8" width="35.3" height="23.1" fill="#ff00ff" stroke="#000" stroke-width="1.4"/>
<rect x="560.7" y="0.8" width="35.4" height="23.3" fill="#00ffff" stroke="#000" stroke-width="1.4"/>
<rect x="869.85" y="0.85" width="9.1" height="23.5" fill="none" stroke="#000" stroke-width="1.7"/>
<path d="M1012.3 12.8h8.5M1026 12.8h8.4M1039.8 12.8h8.2" stroke="#000" stroke-width="2.3" fill="none"/>
</svg>
</body></html>
